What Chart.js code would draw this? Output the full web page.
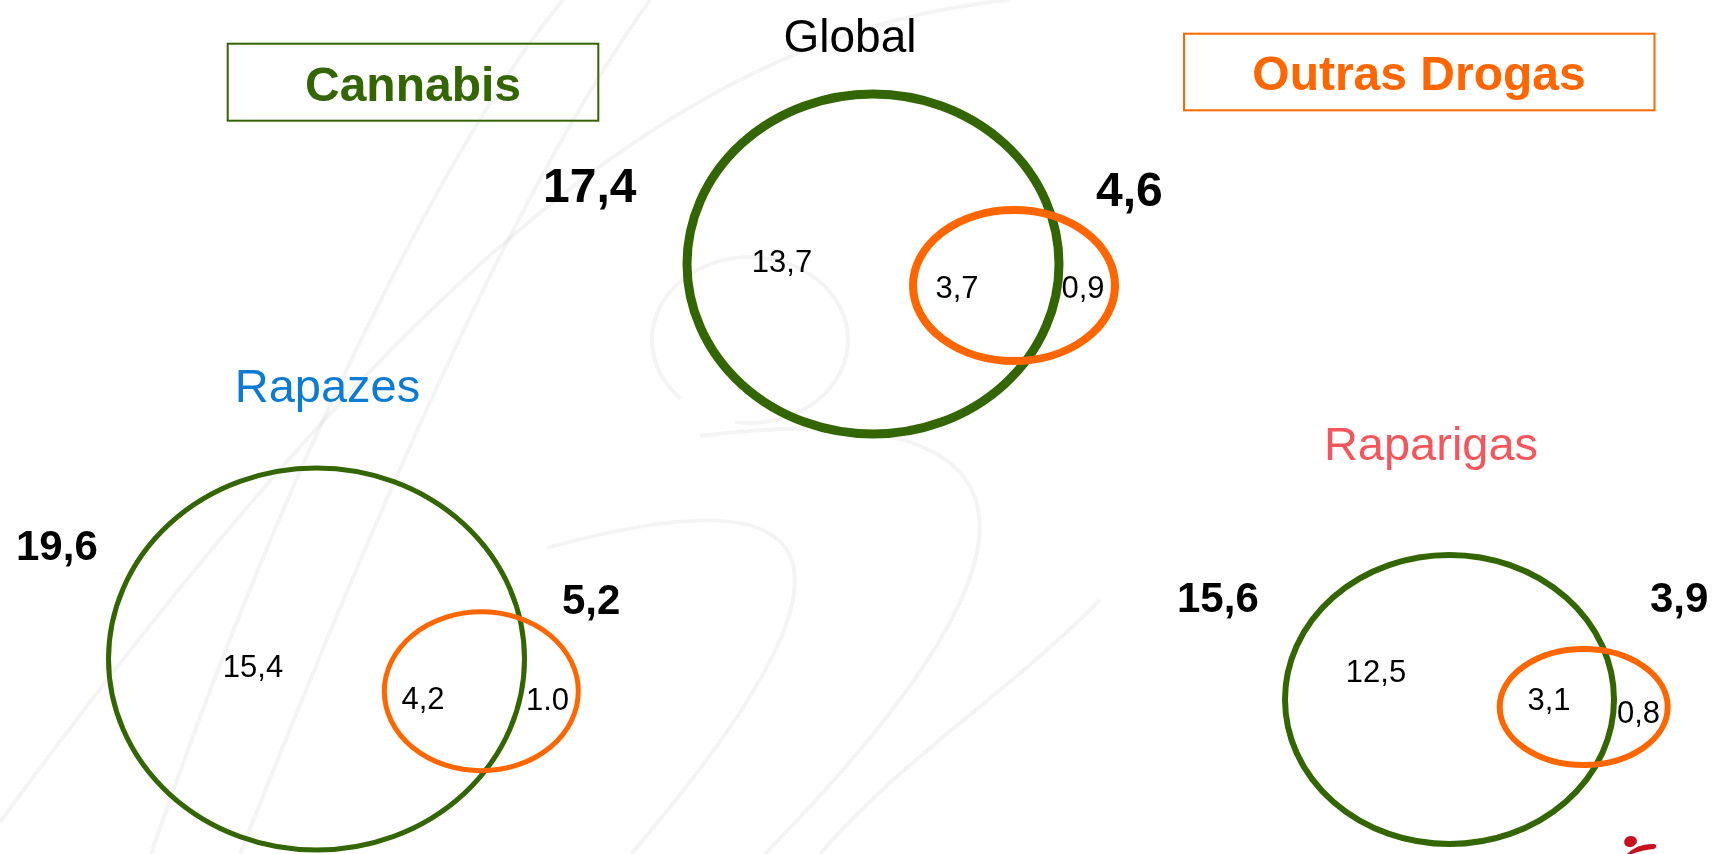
<!DOCTYPE html>
<html lang="pt">
<head>
<meta charset="utf-8">
<title>Cannabis e outras drogas</title>
<script src="https://cdn.jsdelivr.net/npm/chart.js@4.4.1/dist/chart.umd.min.js"></script>
<style>
  html, body { margin: 0; padding: 0; background: #fff; overflow: hidden; }
  #wrap { width: 1713px; height: 854px; }
</style>
</head>
<body>
<div id="wrap"><canvas id="venn" width="1713" height="854"></canvas></div>
<script>
// dados (prevalências, %)
const groups = ['Global', 'Rapazes', 'Raparigas'];
const cannabisTotal = [17.4, 19.6, 15.6];
const otherDrugsTotal = [4.6, 5.2, 3.9];
const cannabisOnly = [13.7, 15.4, 12.5];
const bothDrugs = [3.7, 4.2, 3.1];
const otherDrugsOnly = [0.9, 1.0, 0.8];
const seriesNames = ['Cannabis', 'Outras Drogas'];

// layout, em px do quadro 1713x854
const cannabisShape = [
  { x: 873, y: 264, rx: 186, ry: 170, lw: 9 },
  { x: 316.5, y: 659, rx: 208, ry: 191, lw: 5 },
  { x: 1449.5, y: 699.5, rx: 164.5, ry: 144.5, lw: 6 }
];
const otherShape = [
  { x: 1014, y: 285.5, rx: 101, ry: 75.5, lw: 8 },
  { x: 481.3, y: 691.3, rx: 97, ry: 79.5, lw: 5 },
  { x: 1583.7, y: 707, rx: 84, ry: 58, lw: 6 }
];
const titlePos = [
  { x: 850, y: 52, color: '#000000' },
  { x: 327.5, y: 402, color: '#0b7bd3' },
  { x: 1431, y: 460, color: '#f5565b' }
];
const totalPos = [
  { c: [543, 202], o: [1096, 206], size: 48 },
  { c: [16, 560], o: [562, 614], size: 42 },
  { c: [1177, 612], o: [1650, 612], size: 42 }
];
const regionPos = [
  { c: [782, 272], b: [957, 298], o: [1083, 298] },
  { c: [253, 677], b: [423, 709], o: [547.5, 710] },
  { c: [1376, 682], b: [1549, 710], o: [1638.5, 723] }
];

const GREEN = 'rgb(51,102,0)';
const ORANGE = 'rgb(255,102,0)';
const FONT = '"Liberation Sans", Arial, Helvetica, sans-serif';

// 1.0 aparece com ponto no original
function fmt(v, gi, kind) {
  if (kind === 'otherOnly' && gi === 1) return v.toFixed(1);
  return v.toFixed(1).replace('.', ',');
}

/**
 * desenha texto em coordenadas de dados
 */
function drawText(chart, str, x, y, font, color, align) {
  const ctx = chart.ctx;
  const sx = chart.scales.x, sy = chart.scales.y;
  ctx.save();
  ctx.font = font;
  ctx.fillStyle = color;
  ctx.textAlign = align || 'center';
  ctx.textBaseline = 'alphabetic';
  ctx.fillText(str, sx.getPixelForValue(x), sy.getPixelForValue(y));
  ctx.restore();
}

// fundo: marca de água (traços cinza muito claros)
const watermark = {
  id: 'watermark',
  beforeDatasetsDraw(chart) {
    const ctx = chart.ctx;
    const sx = chart.scales.x, sy = chart.scales.y;
    const P = (x, y) => [sx.getPixelForValue(x), sy.getPixelForValue(y)];
    const curves = [
      [[563, 0], [470, 110], [300, 420], [151, 854]],
      [[650, 0], [520, 180], [380, 500], [240, 854]],
      [[1010, 0], [700, 30], [420, 250], [0, 822]],
      [[547, 548], [720, 500], [960, 470], [631, 854]],
      [[700, 436], [900, 410], [1180, 430], [765, 854]],
      [[1100, 600], [1000, 700], [900, 760], [820, 854]]
    ];
    ctx.save();
    ctx.strokeStyle = 'rgba(0,0,0,0.045)';
    ctx.lineWidth = 4;
    curves.forEach(c => {
      const a = P(...c[0]), b = P(...c[1]), d = P(...c[2]), e = P(...c[3]);
      ctx.beginPath();
      ctx.moveTo(a[0], a[1]);
      ctx.bezierCurveTo(b[0], b[1], d[0], d[1], e[0], e[1]);
      ctx.stroke();
    });
    // laço pequeno atrás do círculo global
    const c0 = P(750, 340);
    ctx.beginPath();
    ctx.ellipse(c0[0], c0[1], 98, 83, 0, Math.PI * 0.75, Math.PI * 2.55);
    ctx.stroke();
    ctx.restore();
  }
};

// elipses e rótulos
const vennDraw = {
  id: 'vennDraw',
  afterDatasetsDraw(chart) {
    const ctx = chart.ctx;
    const sx = chart.scales.x, sy = chart.scales.y;

    chart.data.datasets.forEach((ds, di) => {
      const meta = chart.getDatasetMeta(di);
      meta.data.forEach((pt, i) => {
        const s = ds.shapes[i];
        const rx = Math.abs(sx.getPixelForValue(s.x + s.rx) - pt.x);
        const ry = Math.abs(sy.getPixelForValue(s.y + s.ry) - pt.y);
        ctx.save();
        ctx.strokeStyle = ds.borderColor;
        ctx.lineWidth = s.lw;
        ctx.beginPath();
        ctx.ellipse(pt.x, pt.y, rx, ry, 0, 0, Math.PI * 2);
        ctx.stroke();
        ctx.restore();
      });
    });

    // caixas de legenda
    ctx.save();
    ctx.lineWidth = 2;
    ctx.strokeStyle = GREEN;
    ctx.strokeRect(sx.getPixelForValue(227.7), sy.getPixelForValue(43.7), 370.6, 77);
    ctx.strokeStyle = ORANGE;
    ctx.strokeRect(sx.getPixelForValue(1184), sy.getPixelForValue(33.7), 470.5, 76.6);
    ctx.restore();
    drawText(chart, seriesNames[0], 413, 101, 'bold 48px ' + FONT, GREEN);
    drawText(chart, seriesNames[1], 1419, 90, 'bold 48px ' + FONT, ORANGE);

    groups.forEach((g, i) => {
      drawText(chart, g, titlePos[i].x, titlePos[i].y, i === 0 ? '46px ' + FONT : '47px ' + FONT, titlePos[i].color);

      const t = totalPos[i];
      const bf = 'bold ' + t.size + 'px ' + FONT;
      drawText(chart, fmt(cannabisTotal[i], i), t.c[0], t.c[1], bf, '#000', 'left');
      drawText(chart, fmt(otherDrugsTotal[i], i), t.o[0], t.o[1], bf, '#000', 'left');

      const r = regionPos[i];
      const rf = '31px ' + FONT;
      drawText(chart, fmt(cannabisOnly[i], i), r.c[0], r.c[1], rf, '#000');
      drawText(chart, fmt(bothDrugs[i], i), r.b[0], r.b[1], rf, '#000');
      drawText(chart, fmt(otherDrugsOnly[i], i, 'otherOnly'), r.o[0], r.o[1], rf, '#000');
    });

    // logótipo (canto inferior direito)
    const lx = sx.getPixelForValue(1624), ly = sy.getPixelForValue(836);
    ctx.save();
    ctx.fillStyle = '#c8101e';
    ctx.beginPath();
    ctx.ellipse(lx + 6.5, ly + 5.5, 6.5, 5.5, -0.3, 0, Math.PI * 2);
    ctx.fill();
    ctx.beginPath();
    ctx.moveTo(lx + 3, ly + 18);
    ctx.quadraticCurveTo(lx + 14, ly + 7, lx + 30, ly + 8);
    ctx.quadraticCurveTo(lx + 35, ly + 10, lx + 30, ly + 13);
    ctx.quadraticCurveTo(lx + 18, ly + 14, lx + 8, ly + 18);
    ctx.closePath();
    ctx.fill();
    ctx.restore();
  }
};

new Chart(document.getElementById('venn'), {
  type: 'scatter',
  data: {
    datasets: [
      {
        label: seriesNames[0],
        data: cannabisShape.map((s, i) => ({ x: s.x, y: s.y, v: cannabisTotal[i] })),
        shapes: cannabisShape,
        borderColor: GREEN,
        backgroundColor: GREEN,
        pointRadius: 0
      },
      {
        label: seriesNames[1],
        data: otherShape.map((s, i) => ({ x: s.x, y: s.y, v: otherDrugsTotal[i] })),
        shapes: otherShape,
        borderColor: ORANGE,
        backgroundColor: ORANGE,
        pointRadius: 0
      }
    ]
  },
  options: {
    responsive: false,
    animation: false,
    events: [],
    layout: { padding: 0 },
    plugins: {
      legend: { display: false },
      tooltip: { enabled: false }
    },
    scales: {
      x: { type: 'linear', min: 0, max: 1713, display: false },
      y: { type: 'linear', min: 0, max: 854, reverse: true, display: false }
    }
  },
  plugins: [watermark, vennDraw]
});
</script>
</body>
</html>
